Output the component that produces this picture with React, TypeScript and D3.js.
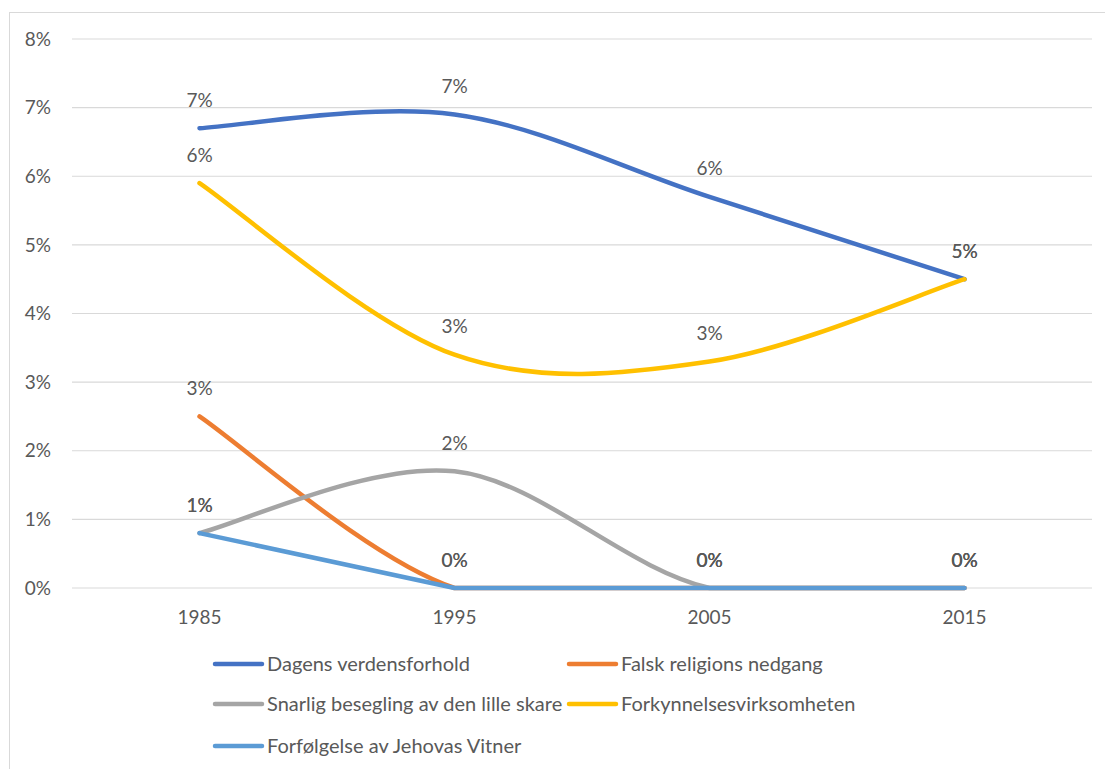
import React, { useEffect, useRef } from 'react'
import * as d3 from 'd3'

const years = ['1985', '1995', '2005', '2015']
const seriesNames = [
  'Dagens verdensforhold',
  'Falsk religions nedgang',
  'Snarlig besegling av den lille skare',
  'Forkynnelsesvirksomheten',
  'Forfølgelse av Jehovas Vitner',
]
const seriesColors = ['#4472C4', '#ED7D31', '#A5A5A5', '#FFC000', '#5B9BD5']
const seriesSmooth = [true, true, true, true, false]
const dagens = [0.067, 0.069, 0.057, 0.045]
const falsk = [0.025, 0, 0, 0]
const snarlig = [0.008, 0.017, 0, 0]
const forkynnelse = [0.059, 0.034, 0.033, 0.045]
const forfolgelse = [0.008, 0, 0, 0]
const yTicks = [0, 0.01, 0.02, 0.03, 0.04, 0.05, 0.06, 0.07, 0.08]

const FONT = 'Lato, "Open Sans", sans-serif'
const TEXT = '#595959'

// excel-like smoothing: catmull-rom, control points kept above the zero line
const smoothCurve = (yFloor: number) => (context: any) => {
  let pts: [number, number][] = []
  const cy = (v: number) => Math.min(v, yFloor)
  return {
    areaStart() {},
    areaEnd() {},
    lineStart() { pts = [] },
    point(x: number, y: number) { pts.push([x, y]) },
    lineEnd() {
      if (!pts.length) return
      context.moveTo(pts[0][0], pts[0][1])
      for (let i = 0; i < pts.length - 1; i++) {
        const p0 = pts[i - 1] || pts[i]
        const p1 = pts[i]
        const p2 = pts[i + 1]
        const p3 = pts[i + 2] || pts[i + 1]
        context.bezierCurveTo(
          p1[0] + (p2[0] - p0[0]) / 6, cy(p1[1] + (p2[1] - p0[1]) / 6),
          p2[0] - (p3[0] - p1[0]) / 6, cy(p2[1] - (p3[1] - p1[1]) / 6),
          p2[0], p2[1]
        )
      }
    },
  }
}

const App = () => {
  const svgRef = useRef<SVGSVGElement>(null)

  useEffect(() => {
    const svg = d3.select(svgRef.current)
    svg.selectAll('*').remove()

    const allSeries = [dagens, falsk, snarlig, forkynnelse, forfolgelse]

    const x = d3.scalePoint().domain(years).range([72, 1092]).padding(0.5)
    const y = d3.scaleLinear().domain([0, 0.08]).range([588, 39])

    // chart border
    svg.append('rect')
      .attr('x', 9.5).attr('y', 12.5)
      .attr('width', 1110).attr('height', 780)
      .attr('fill', 'white').attr('stroke', '#d9d9d9')

    // gridlines
    svg.append('g')
      .selectAll('line')
      .data(yTicks)
      .join('line')
      .attr('x1', 72).attr('x2', 1092)
      .attr('y1', d => y(d)).attr('y2', d => y(d))
      .attr('stroke', '#d9d9d9').attr('stroke-width', 1.2)

    // y tick labels
    svg.append('g')
      .selectAll('text')
      .data(yTicks)
      .join('text')
      .attr('x', 51).attr('y', d => y(d))
      .attr('dy', '0.35em')
      .attr('text-anchor', 'end')
      .attr('font-family', FONT).attr('font-size', 19)
      .attr('fill', TEXT)
      .text(d => d3.format('.0%')(d))

    // x tick labels
    svg.append('g')
      .selectAll('text')
      .data(years)
      .join('text')
      .attr('x', d => x(d)!).attr('y', 617)
      .attr('dy', '0.35em')
      .attr('text-anchor', 'middle')
      .attr('font-family', FONT).attr('font-size', 19)
      .attr('fill', TEXT)
      .text(d => d)

    const smoothLine = d3.line<number>()
      .x((_, i) => x(years[i])!)
      .y(d => y(d))
      .curve(smoothCurve(y(0)) as any)
    const straightLine = d3.line<number>()
      .x((_, i) => x(years[i])!)
      .y(d => y(d))

    svg.append('g')
      .selectAll('path')
      .data(allSeries)
      .join('path')
      .attr('d', (d, i) => (seriesSmooth[i] ? smoothLine(d) : straightLine(d)))
      .attr('fill', 'none')
      .attr('stroke', (_, i) => seriesColors[i])
      .attr('stroke-width', 4.5)
      .attr('stroke-linecap', 'round')
      .attr('stroke-linejoin', 'round')

    // data labels
    allSeries.forEach(values => {
      svg.append('g')
        .selectAll('text')
        .data(values)
        .join('text')
        .attr('x', (_, i) => x(years[i])!)
        .attr('y', d => y(d) - 28)
        .attr('dy', '0.35em')
        .attr('text-anchor', 'middle')
        .attr('font-family', FONT).attr('font-size', 19)
        .attr('fill', TEXT)
        .text(d => Math.round(d * 100) + '%')
    })

    // legend
    const legendPos = [
      [215, 664], [569, 664],
      [215, 704], [569, 704],
      [215, 746],
    ]
    const legend = svg.append('g')
      .selectAll('g')
      .data(seriesNames)
      .join('g')
      .attr('transform', (_, i) => `translate(${legendPos[i][0]},${legendPos[i][1]})`)
    legend.append('line')
      .attr('x1', 0).attr('x2', 47)
      .attr('stroke', (_, i) => seriesColors[i])
      .attr('stroke-width', 4.5)
      .attr('stroke-linecap', 'round')
    legend.append('text')
      .attr('x', 52).attr('dy', '0.35em')
      .attr('font-family', FONT).attr('font-size', 20)
      .attr('fill', TEXT)
      .text(d => d)
  }, [])

  return (
    <svg
      ref={svgRef}
      width={1105}
      height={769}
      style={{ position: 'absolute', left: 0, top: 0, background: 'white' }}
    />
  )
}

export default App
